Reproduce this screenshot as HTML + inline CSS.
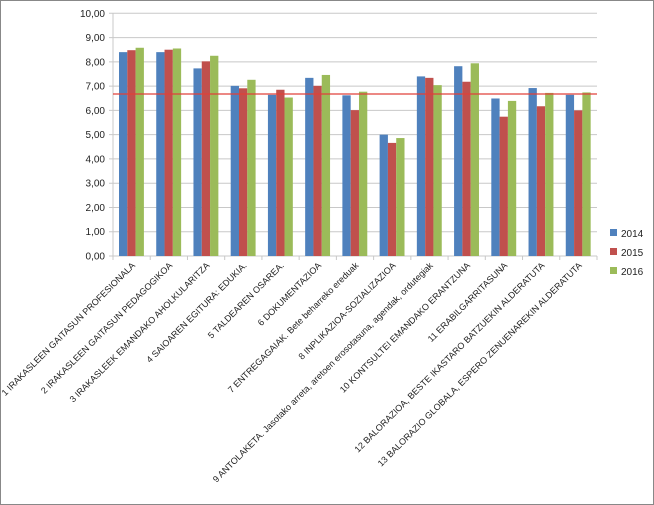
<!DOCTYPE html>
<html><head><meta charset="utf-8"><style>body{margin:0;background:#fff}svg{display:block}text{font-family:"Liberation Sans",sans-serif;fill:#222}</style></head><body>
<svg width="654" height="505" viewBox="0 0 654 505" xmlns="http://www.w3.org/2000/svg">
<rect x="0.5" y="0.5" width="653" height="504" fill="#fff" stroke="#888"/>
<g id="grid" stroke="#c8c8c8" stroke-width="1"></g>
<g id="bars"></g>
<g id="labels" font-size="9"></g>
<line x1="113" y1="94" x2="597" y2="94" stroke="#e0403a" stroke-width="1.3"/>
<g font-size="10">
<rect x="610" y="229" width="7" height="7" fill="#4f81bd"/><text x="621" y="237">2014</text>
<rect x="610" y="248" width="7" height="7" fill="#c0504d"/><text x="621" y="256">2015</text>
<rect x="610" y="267" width="7" height="7" fill="#9bbb59"/><text x="621" y="275">2016</text>
</g>
<script>
var ns="http://www.w3.org/2000/svg";
function el(t,a,p,txt){var e=document.createElementNS(ns,t);for(var k in a)e.setAttribute(k,a[k]);if(txt)e.textContent=txt;document.getElementById(p).appendChild(e);return e;}
var y0=256,s=24.27,x0=113,w=484/13;
for(var i=0;i<=10;i++){var y=y0-i*s;el('line',{x1:109,x2:597,y1:y,y2:y},'grid');
el('text',{x:105,y:y+3.5,'text-anchor':'end','font-size':10},'labels',i.toFixed(2).replace('.',','));}
el('line',{x1:113,x2:113,y1:13,y2:256,stroke:'#c8c8c8'},'grid');
for(var i=0;i<=13;i++){var x=x0+i*w;el('line',{x1:x,x2:x,y1:256,y2:260},'grid');}
var d=[[8.40,8.48,8.58],[8.40,8.50,8.55],[7.73,8.02,8.25],[7.01,6.91,7.26],[6.64,6.85,6.53],[7.34,7.01,7.46],[6.62,6.01,6.77],[5.00,4.66,4.86],[7.40,7.34,7.04],[7.82,7.18,7.94],[6.49,5.74,6.39],[6.92,6.17,6.72],[6.64,6.00,6.74]];
var c=['#4f81bd','#c0504d','#9bbb59'];
var L=["1 IRAKASLEEN GAITASUN PROFESIONALA","2 IRAKASLEEN GAITASUN PEDAGOGIKOA","3 IRAKASLEEK EMANDAKO AHOLKULARITZA","4 SAIOAREN EGITURA: EDUKIA.","5 TALDEAREN OSAREA.","6 DOKUMENTAZIOA","7 ENTREGAGAIAK. Bete beharreko ereduak","8 INPLIKAZIOA-SOZIALIZAZIOA","9 ANTOLAKETA. Jasotako arreta, aretoen erosotasuna, agendak, ordutegiak","10 KONTSULTEI EMANDAKO ERANTZUNA","11 ERABILGARRITASUNA","12 BALORAZIOA, BESTE IKASTARO BATZUEKIN ALDERATUTA","13 BALORAZIO GLOBALA, ESPERO ZENUENAREKIN ALDERATUTA"];
for(var i=0;i<13;i++){var gx=x0+i*w+6;
for(var j=0;j<3;j++){var h=d[i][j]*s;el('rect',{x:gx+j*8.3,y:y0-h,width:8.3,height:h,fill:c[j]},'bars');}
var cx=x0+i*w+w/2+4;
el('text',{x:cx,y:266,'text-anchor':'end',transform:'rotate(-45 '+cx+' 266)'},'labels',L[i]);}
</script>
</svg>
</body></html>
